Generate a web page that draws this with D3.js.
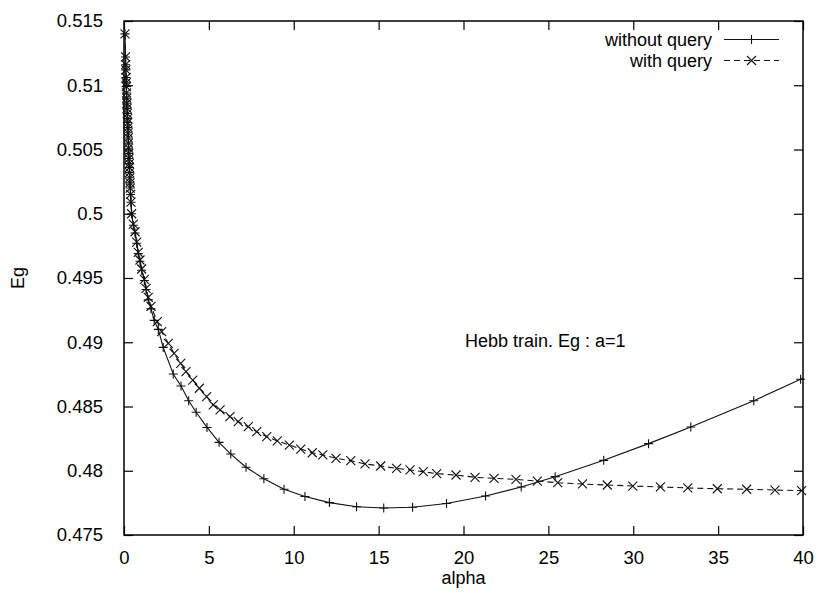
<!DOCTYPE html>
<html>
<head>
<meta charset="utf-8">
<script src="https://cdn.jsdelivr.net/npm/d3@7"></script>
<style>
	body { margin: 0; background: white; }
	text { font-family: "Liberation Sans", Arial, sans-serif; fill: black; }
</style>
</head>
<body>
<div id="chart"></div>
<script>

// alpha / Eg values
let alphaWithout = [0.06, 0.09, 0.10, 0.11, 0.12, 0.13, 0.14, 0.15, 0.16, 0.17, 0.18, 0.19, 0.21, 0.22, 0.23, 0.24, 0.25, 0.26, 0.27, 0.28, 0.29, 0.31, 0.32, 0.33, 0.34, 0.35, 0.37, 0.39, 0.41, 0.45, 0.55, 0.65, 0.75, 0.84, 0.94, 1.04, 1.20, 1.30, 1.43, 1.59,
	1.78, 2.02, 2.31, 2.90, 3.36, 3.81, 4.25, 4.89, 5.60, 6.29, 7.19, 8.24, 9.43, 10.66, 12.10, 13.70, 15.30, 17.00, 19.00, 21.30, 23.40, 25.40, 28.26, 30.90, 33.39, 37.10, 39.86, 40]
let egWithout = [0.5140, 0.5122, 0.5116, 0.5112, 0.5106, 0.5102, 0.5099, 0.5094, 0.5090, 0.5086, 0.5082, 0.5078, 0.5074, 0.5071, 0.5067, 0.5063, 0.5059, 0.5055, 0.5051, 0.5047, 0.5043, 0.5039, 0.5036, 0.5032, 0.5028, 0.5024, 0.5020, 0.5015, 0.5009, 0.5000, 0.4991, 0.4985, 0.4977, 0.4969, 0.4963, 0.4956, 0.4948, 0.4941, 0.4933, 0.4926,
	0.4917, 0.4910, 0.4896, 0.48753, 0.4866, 0.48545, 0.48455, 0.48337, 0.48221, 0.4813, 0.48027, 0.47938, 0.47856, 0.47800, 0.47752, 0.4772, 0.4771, 0.47716, 0.47745, 0.47803, 0.47874, 0.47954, 0.48081, 0.48211, 0.4834, 0.48545, 0.48712, 0.48720]

let alphaWith = [0.06, 0.09, 0.10, 0.11, 0.12, 0.13, 0.14, 0.15, 0.16, 0.17, 0.18, 0.19, 0.21, 0.22, 0.23, 0.24, 0.25, 0.26, 0.27, 0.28, 0.29, 0.31, 0.32, 0.33, 0.34, 0.35, 0.37, 0.39, 0.41, 0.45, 0.55, 0.65, 0.75, 0.84, 0.94, 1.04, 1.20, 1.30, 1.43, 1.59,
	1.96, 2.22, 2.61, 2.95, 3.34, 3.65, 4.05, 4.44, 4.87, 5.26, 5.66, 6.24, 6.73, 7.32, 7.82, 8.41, 9.03, 9.74, 10.41, 11.09, 11.71, 12.49, 13.36, 14.20, 15.12, 16.06, 16.85, 17.63, 18.42, 19.56, 20.68, 21.80, 23.09, 24.35, 25.55, 27.01, 28.47, 29.97, 31.60, 33.21, 34.95, 36.68, 38.35, 39.92]
let egWith = [0.5140, 0.5122, 0.5116, 0.5112, 0.5106, 0.5102, 0.5099, 0.5094, 0.5090, 0.5086, 0.5082, 0.5078, 0.5074, 0.5071, 0.5067, 0.5063, 0.5059, 0.5055, 0.5051, 0.5047, 0.5043, 0.5039, 0.5036, 0.5032, 0.5028, 0.5024, 0.5020, 0.5015, 0.5009, 0.5000, 0.4992, 0.4986, 0.4978, 0.4970, 0.4964, 0.4957, 0.4949, 0.4942, 0.4935, 0.4928,
	0.4916, 0.49082, 0.48992, 0.48914, 0.48836, 0.48771, 0.48706, 0.48642, 0.48576, 0.48512, 0.48473, 0.48421, 0.48382, 0.48343, 0.48304, 0.48265, 0.48232, 0.482, 0.48169, 0.4814, 0.48123, 0.48097, 0.48078, 0.48053, 0.48037, 0.48019, 0.48006, 0.47993, 0.47977, 0.47967, 0.47949, 0.47941, 0.47933, 0.4792, 0.47907, 0.47897, 0.47889, 0.47881, 0.47874, 0.47866, 0.4786, 0.47856, 0.4785, 0.47845]

let xTicks = [0, 5, 10, 15, 20, 25, 30, 35, 40]
let yTicks = [0.475, 0.48, 0.485, 0.49, 0.495, 0.5, 0.505, 0.51, 0.515]

let seriesNames = ['without query', 'with query']

let width = 817
let height = 593
let margin = {left: 124, right: 14, top: 21, bottom: 58}
let tickLen = 9

let xScale = d3.scaleLinear()
	.domain([0, 40])
	.range([margin.left, width - margin.right])

let yScale = d3.scaleLinear()
	.domain([0.475, 0.515])
	.range([height - margin.bottom, margin.top])

const svg = d3.select('#chart')
	.append('svg')
	.attr('width', width)
	.attr('height', height)

// inward ticks on all four sides, gnuplot style
let xAxis = d3.axisBottom(xScale).tickValues(xTicks).tickSize(-tickLen).tickPadding(16).tickFormat(d3.format('d'))
let xAxisTop = d3.axisTop(xScale).tickValues(xTicks).tickSize(-tickLen).tickFormat('')
let yAxis = d3.axisLeft(yScale).tickValues(yTicks).tickSize(-tickLen).tickPadding(21).tickFormat(d => String(+d.toFixed(3)))
let yAxisRight = d3.axisRight(yScale).tickValues(yTicks).tickSize(-tickLen).tickFormat('')

let gs = [
	svg.append('g').attr('transform', `translate(0,${height - margin.bottom})`).call(xAxis),
	svg.append('g').attr('transform', `translate(0,${margin.top})`).call(xAxisTop),
	svg.append('g').attr('transform', `translate(${margin.left},0)`).call(yAxis),
	svg.append('g').attr('transform', `translate(${width - margin.right},0)`).call(yAxisRight)
]
gs.forEach(function(g){
	g.select('.domain').remove()
	g.selectAll('line').attr('stroke', 'black').attr('stroke-width', 1.2)
	g.selectAll('text').attr('font-size', 18.5).attr('fill', 'black')
		.style('font-family', '"Liberation Sans", Arial, sans-serif')
})

svg.append('rect')
	.attr('x', margin.left)
	.attr('y', margin.top)
	.attr('width', width - margin.left - margin.right)
	.attr('height', height - margin.top - margin.bottom)
	.attr('fill', 'none')
	.attr('stroke', 'black')
	.attr('stroke-width', 1.5)

let line = d3.line()
	.x(d => xScale(d[0]))
	.y(d => yScale(d[1]))

let withoutPts = d3.zip(alphaWithout, egWithout)
let withPts = d3.zip(alphaWith, egWith)

let markerSize = 4.5

function plusPath(x, y){
	return `M${x - markerSize},${y}H${x + markerSize}M${x},${y - markerSize}V${y + markerSize}`
}
function crossPath(x, y){
	let s = markerSize
	return `M${x - s},${y - s}L${x + s},${y + s}M${x - s},${y + s}L${x + s},${y - s}`
}

svg.append('path')
	.datum(withoutPts)
	.attr('d', line)
	.attr('fill', 'none')
	.attr('stroke', '#111')
	.attr('stroke-width', 1.1)

svg.append('path')
	.datum(withPts)
	.attr('d', line)
	.attr('fill', 'none')
	.attr('stroke', '#111')
	.attr('stroke-width', 1.1)
	.attr('stroke-dasharray', '6,4')

svg.selectAll('.plus')
	.data(withoutPts.slice(0, -1))
	.enter()
	.append('path')
	.attr('d', d => plusPath(xScale(d[0]), yScale(d[1])))
	.attr('stroke', '#111')
	.attr('stroke-width', 1.1)

svg.selectAll('.cross')
	.data(withPts)
	.enter()
	.append('path')
	.attr('d', d => crossPath(xScale(d[0]), yScale(d[1])))
	.attr('stroke', '#111')
	.attr('stroke-width', 1.1)

// legend
let legendY = [39.5, 60.5]
seriesNames.forEach(function(name, i){
	svg.append('text')
		.attr('x', 712)
		.attr('y', legendY[i])
		.attr('dy', '0.35em')
		.attr('text-anchor', 'end')
		.attr('font-size', 18)
		.text(name)
	svg.append('line')
		.attr('x1', 724).attr('x2', 779)
		.attr('y1', legendY[i]).attr('y2', legendY[i])
		.attr('stroke', '#111')
		.attr('stroke-width', 1.1)
		.attr('stroke-dasharray', i == 1 ? '6,4' : null)
	svg.append('path')
		.attr('d', i == 0 ? plusPath(751.5, legendY[i]) : crossPath(751.5, legendY[i]))
		.attr('stroke', '#111')
		.attr('stroke-width', 1.1)
})

svg.append('text')
	.attr('x', 465)
	.attr('y', 341)
	.attr('dy', '0.35em')
	.attr('font-size', 18)
	.text('Hebb train. Eg : a=1')

svg.append('text')
	.attr('x', (margin.left + width - margin.right) / 2)
	.attr('y', 584)
	.attr('text-anchor', 'middle')
	.attr('font-size', 18)
	.text('alpha')

svg.append('text')
	.attr('transform', 'translate(24,278) rotate(-90)')
	.attr('text-anchor', 'middle')
	.attr('font-size', 18)
	.text('Eg')

</script>
</body>
</html>
